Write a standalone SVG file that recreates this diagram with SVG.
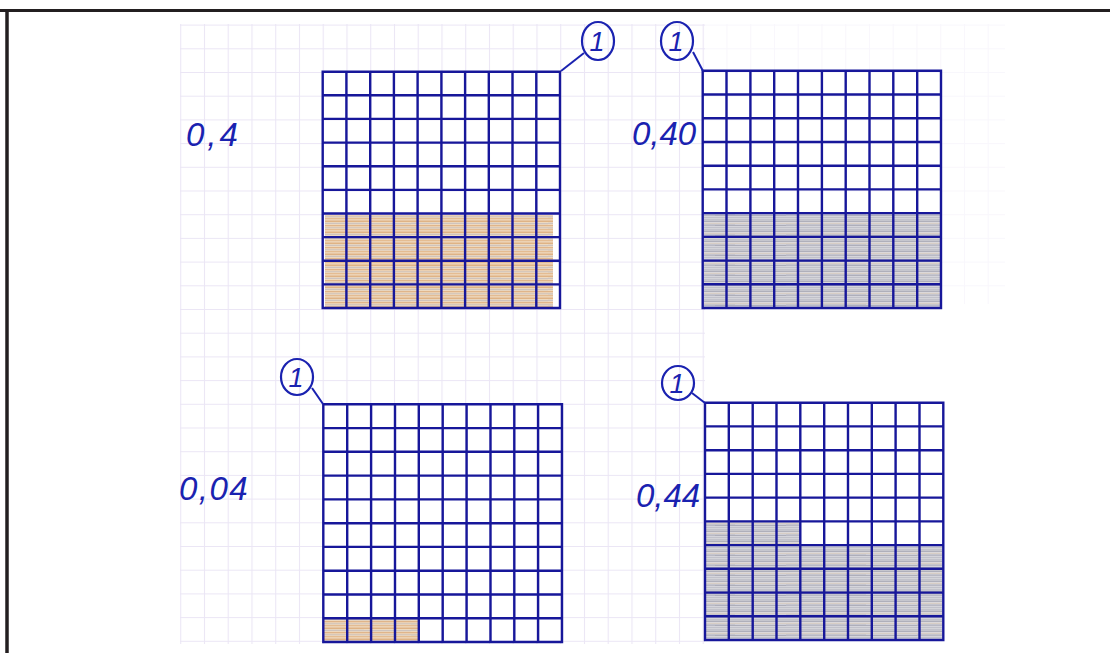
<svg xmlns="http://www.w3.org/2000/svg" width="1110" height="653" viewBox="0 0 1110 653">
<style>
.grid{fill:none;stroke:#17179a;stroke-width:2.4;stroke-linecap:square}
.lbl{font-family:"Liberation Sans",Arial,sans-serif;font-style:italic;font-size:33px;fill:#1a22b0}
.one{font-family:"Liberation Sans",Arial,sans-serif;font-style:italic;font-size:27px;fill:#1a22b0;text-anchor:middle}
.circ{fill:none;stroke:#1a22b0;stroke-width:2.2}
.lead{fill:none;stroke:#1a22b0;stroke-width:2}
</style>
<defs>
<pattern id="paper" patternUnits="userSpaceOnUse" x="322.7" y="72" width="23.75" height="23.7">
<path d="M0 0.5H23.75M0.5 0V23.7" stroke="#ddd5ee" stroke-width="1.1" fill="none"/>
</pattern>
<pattern id="orange" patternUnits="userSpaceOnUse" width="137" height="11">
<rect width="137" height="11" fill="#eed9bf"/>
<path d="M0 1.3H137" stroke="#d39355" stroke-width="1.5" opacity="0.55"/>
<path d="M0 3.4H90M70 3.6H137" stroke="#aeaebb" stroke-width="1.3" opacity="0.5"/>
<path d="M0 5.6H137" stroke="#cf8a48" stroke-width="1.4" opacity="0.45"/>
<path d="M20 7.7H137M0 7.9H30" stroke="#9f9fae" stroke-width="1.1" opacity="0.4"/>
<path d="M0 9.7H137" stroke="#d9a066" stroke-width="1.3" opacity="0.5"/>
</pattern>
<pattern id="grey" patternUnits="userSpaceOnUse" width="131" height="10">
<rect width="131" height="10" fill="#dcdce1"/>
<path d="M0 1.2H131" stroke="#8a8a9c" stroke-width="1.4" opacity="0.55"/>
<path d="M0 3.3H131" stroke="#c9a47a" stroke-width="1" opacity="0.35"/>
<path d="M0 5.2H80M60 5.4H131" stroke="#7f7f93" stroke-width="1.3" opacity="0.5"/>
<path d="M0 7.4H131" stroke="#a5a5b3" stroke-width="1.2" opacity="0.5"/>
<path d="M0 9.2H131" stroke="#8d8d9e" stroke-width="1.1" opacity="0.45"/>
</pattern>
</defs>
<rect width="1110" height="653" fill="#ffffff"/>
<rect x="180" y="24" width="525" height="620" fill="url(#paper)" opacity="0.6"/>
<rect x="705" y="24" width="300" height="280" fill="url(#paper)" opacity="0.2"/>
<path d="M0 10.5H1110" stroke="#231f20" stroke-width="3"/>
<path d="M7 10V653" stroke="#231f20" stroke-width="3.5"/>

<g id="node-04">
<rect x="325" y="215" width="228" height="92" fill="url(#orange)"/>
<path class="grid" d="M322.7 71.7H560M322.7 95.3H560M322.7 118.9H560M322.7 142.6H560M322.7 166.2H560M322.7 189.9H560M322.7 213.5H560M322.7 237.1H560M322.7 260.8H560M322.7 284.4H560M322.7 308H560M322.7 71.7V308M346.4 71.7V308M370.2 71.7V308M393.9 71.7V308M417.6 71.7V308M441.4 71.7V308M465.1 71.7V308M488.8 71.7V308M512.5 71.7V308M536.3 71.7V308M560 71.7V308"/>
<ellipse class="circ" cx="598" cy="41" rx="16" ry="19"/>
<text class="one" x="597" y="51">1</text>
<text class="lbl" x="186" y="146" letter-spacing="3">0,4</text>
</g>

<g id="node-040">
<rect x="704" y="213" width="236" height="94" fill="url(#grey)"/>
<path class="grid" d="M702.7 70.7H941M702.7 94.5H941M702.7 118.2H941M702.7 142H941M702.7 165.8H941M702.7 189.4H941M702.7 213.1H941M702.7 236.9H941M702.7 260.6H941M702.7 284.3H941M702.7 308H941M702.7 70.7V308M726.5 70.7V308M750.4 70.7V308M774.2 70.7V308M798 70.7V308M821.9 70.7V308M845.7 70.7V308M869.5 70.7V308M893.3 70.7V308M917.2 70.7V308M941 70.7V308"/>
<ellipse class="circ" cx="677" cy="41" rx="16" ry="19"/>
<text class="one" x="676" y="51">1</text>
<text class="lbl" x="632" y="145">0,40</text>
</g>

<g id="node-004">
<rect x="324" y="619" width="94" height="22" fill="url(#orange)"/>
<path class="grid" d="M323.3 404.3H562M323.3 428.1H562M323.3 451.8H562M323.3 475.6H562M323.3 499.4H562M323.3 523.2H562M323.3 546.9H562M323.3 570.7H562M323.3 594.5H562M323.3 618.2H562M323.3 642H562M323.3 404.3V642M347.2 404.3V642M371.1 404.3V642M395 404.3V642M418.8 404.3V642M442.7 404.3V642M466.6 404.3V642M490.5 404.3V642M514.3 404.3V642M538.1 404.3V642M562 404.3V642"/>
<ellipse class="circ" cx="297" cy="377" rx="16" ry="18"/>
<text class="one" x="296" y="387">1</text>
<text class="lbl" x="179" y="500" letter-spacing="1.5">0,04</text>
</g>

<g id="node-044">
<rect x="706" y="522" width="94" height="24" fill="url(#grey)"/>
<rect x="706" y="545" width="236" height="94" fill="url(#grey)"/>
<path class="grid" d="M705 402.7H943.3M705 426.4H943.3M705 450.2H943.3M705 473.9H943.3M705 497.6H943.3M705 521.4H943.3M705 545.1H943.3M705 568.8H943.3M705 592.6H943.3M705 616.3H943.3M705 640H943.3M705 402.7V640M728.8 402.7V640M752.7 402.7V640M776.5 402.7V640M800.3 402.7V640M824.2 402.7V640M848 402.7V640M871.8 402.7V640M895.6 402.7V640M919.5 402.7V640M943.3 402.7V640"/>
<ellipse class="circ" cx="678" cy="383" rx="16" ry="17"/>
<text class="one" x="677" y="393">1</text>
<text class="lbl" x="636" y="507">0,44</text>
</g>

<g id="connectors">
<path class="lead" d="M561 71L584 53"/>
<path class="lead" d="M693 52L703 71"/>
<path class="lead" d="M312 388L323 404"/>
<path class="lead" d="M692 393L705 403"/>
</g>
</svg>
